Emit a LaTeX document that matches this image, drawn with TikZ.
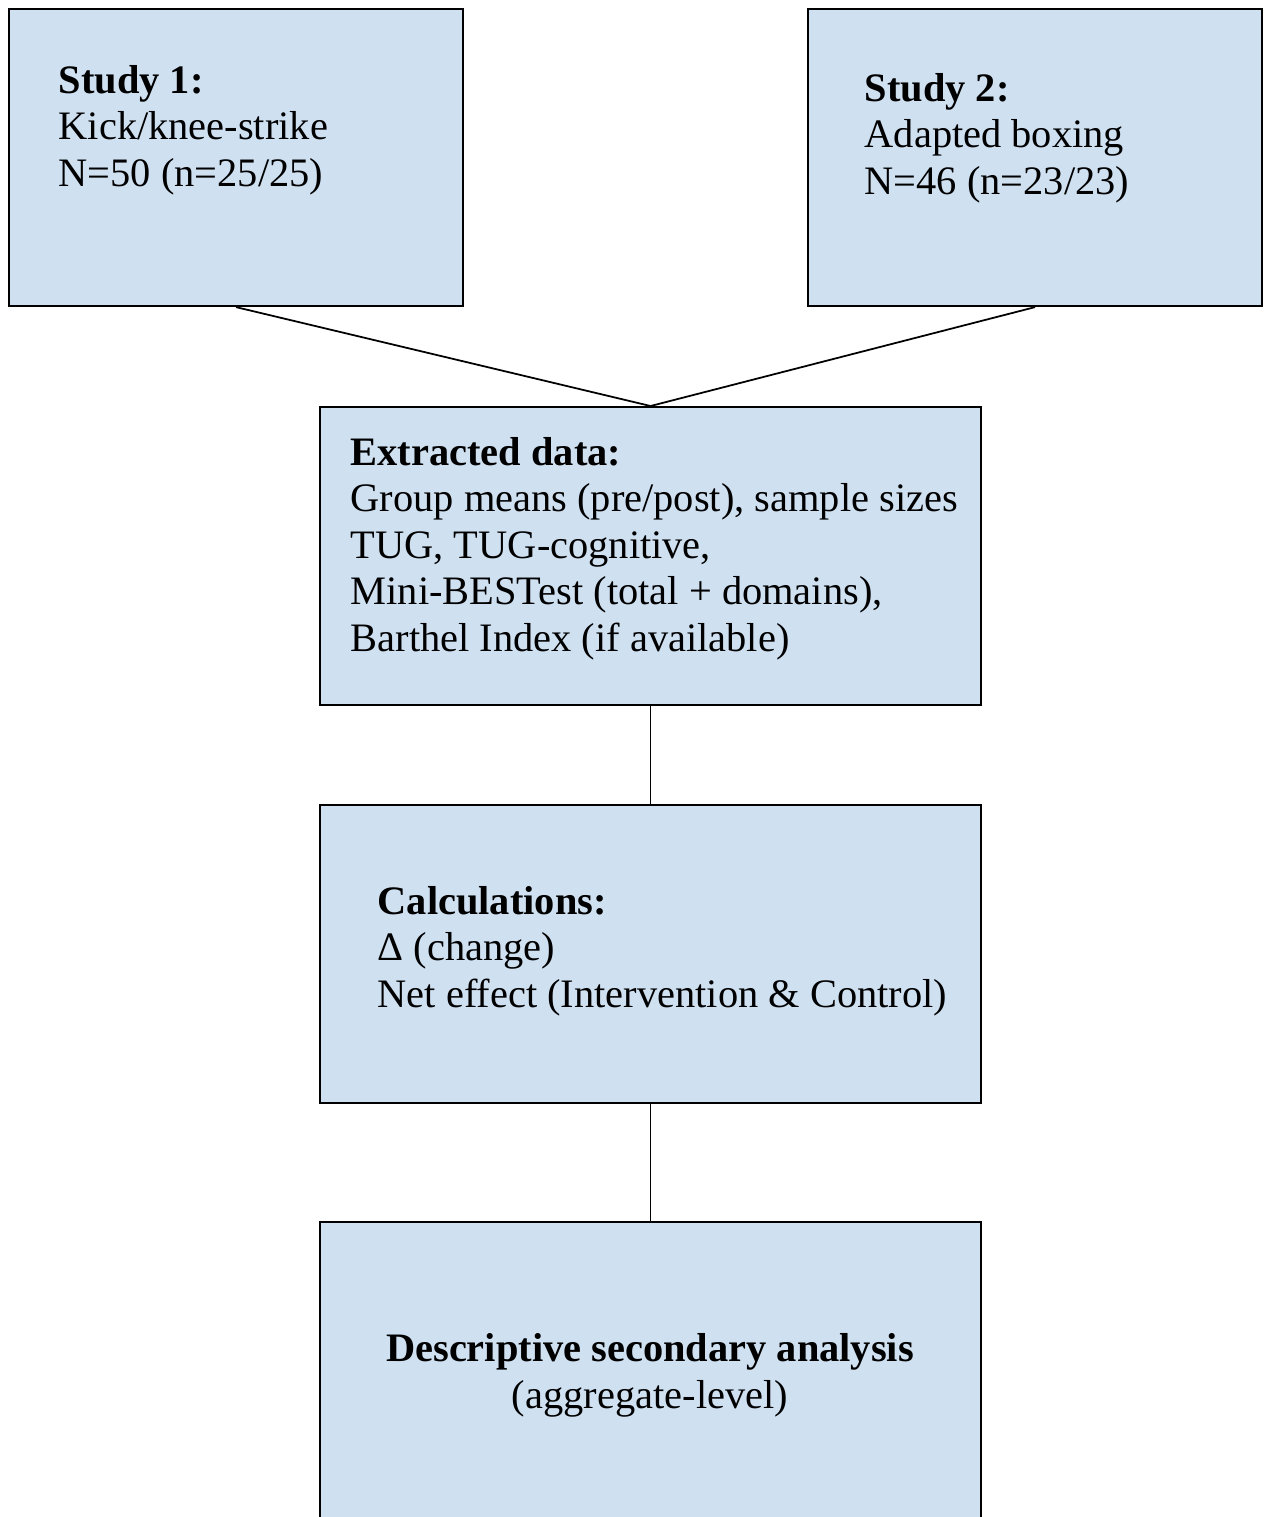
\documentclass[tikz,border=0pt]{standalone}
\usepackage{fontspec}
\setmainfont{Liberation Serif}
\usepackage{xcolor}
\definecolor{boxblue}{RGB}{207,224,241}
\tikzset{
  box/.style={draw=black, fill=boxblue, line width=0.6pt, anchor=north west, minimum width=6.61cm, minimum height=2.98cm, inner sep=0},
  txt/.style={anchor=base west, align=left, inner sep=0, font=\fontsize{11.5}{13.2}\selectfont},
  link/.style={line width=0.5pt}
}

\begin{document}
\begin{tikzpicture}
  \useasboundingbox (0,0) rectangle (12.63,-15.17);
  % boxes
  \node[box, minimum width=4.54cm, minimum height=2.97cm] (study1) at (0.08,-0.08) {};
  \node[box, minimum width=4.54cm, minimum height=2.97cm] (study2) at (8.07,-0.08) {};
  \node[box] (extract) at (3.19,-4.06) {};
  \node[box] (calc) at (3.19,-8.04) {};
  \node[box, minimum height=4cm] (descr) at (3.19,-12.21) {};
  % texts (placed at the baseline of the last line)
  \node[txt] (t1) at (0.58,-1.86) {\textbf{Study 1:}\\Kick/knee-strike\\N=50 (n=25/25)};
  \node[txt] (t2) at (8.64,-1.94) {\textbf{Study 2:}\\Adapted boxing\\N=46 (n=23/23)};
  \node[txt] (t3) at (3.50,-6.51) {\textbf{Extracted data:}\\Group means (pre/post), sample sizes\\TUG, TUG-cognitive,\\Mini-BESTest (total + domains),\\Barthel Index (if available)};
  \node[txt] (t4) at (3.77,-10.07) {\textbf{Calculations:}\\Δ (change)\\Net effect (Intervention \& Control)};
  \node[txt, anchor=base, align=center] (t5) at (6.50,-14.08) {\textbf{Descriptive secondary analysis}\\(aggregate-level)};
  % connectors
  \draw[link] (study1.south) -- (extract.north);
  \draw[link] (study2.south) -- (extract.north);
  \draw[link] (extract.south) -- (calc.north);
  \draw[link] (calc.south) -- (descr.north);
\end{tikzpicture}
\end{document}
